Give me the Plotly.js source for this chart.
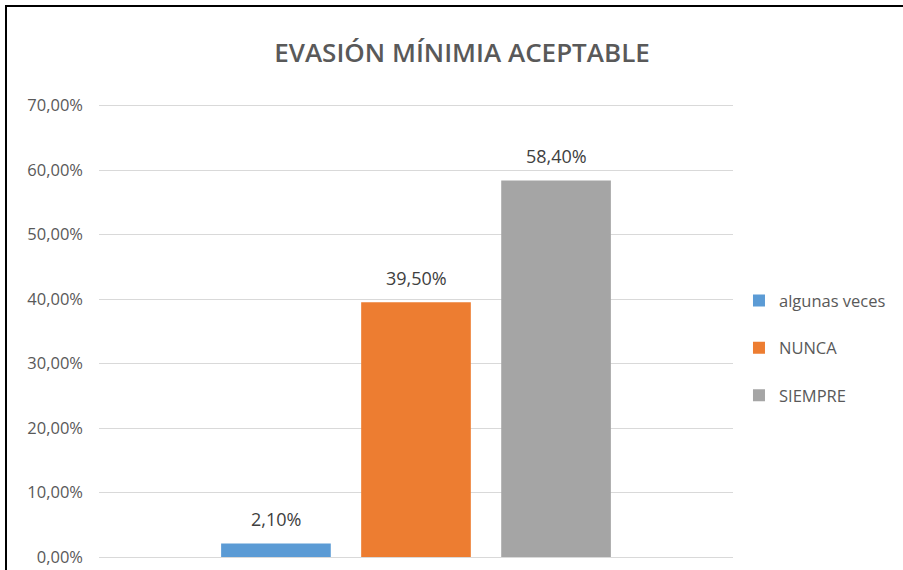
<!DOCTYPE html>
<html>
<head>
<meta charset="utf-8">
<script src="https://cdn.plot.ly/plotly-3.0.1.min.js"></script>
<style>
  html, body { margin: 0; padding: 0; background: #fff; }
  #wrap { position: relative; width: 903px; height: 570px; overflow: hidden; }
  #chart { position: absolute; left: 0; top: 0; width: 903px; height: 570px; }
  #frame { position: absolute; left: 5px; top: 5px; width: 920px; height: 600px;
           border-left: 2px solid #000; border-top: 2px solid #000; pointer-events: none; }
</style>
</head>
<body>
<div id="wrap">
  <div id="chart"></div>
  <div id="frame"></div>
</div>
<script>
// ---- data ----
const chartTitle = 'EVASIÓN MÍNIMIA ACEPTABLE';
const categories = ['algunas veces', 'NUNCA', 'SIEMPRE'];
const values = [0.021, 0.395, 0.584];
const yTickValues = [0, 0.1, 0.2, 0.3, 0.4, 0.5, 0.6, 0.7];

// ---- styles ----
const colors = ['#5B9BD5', '#ED7D31', '#A5A5A5'];
const FONT = '"Open Sans", "Liberation Sans", sans-serif';

function pct(v) {
  return (v * 100).toFixed(2).replace('.', ',') + '%';
}

const traces = categories.map((c, i) => ({
  type: 'bar',
  name: c,
  x: [c],
  y: [values[i]],
  legendgroup: c,
  marker: { color: colors[i], opacity: 1, line: { width: 0 } },
  hoverinfo: 'skip'
}));

const annotations = categories.map((c, i) => ({
  x: c,
  y: values[i],
  xref: 'x',
  yref: 'y',
  text: pct(values[i]),
  showarrow: false,
  yanchor: 'bottom',
  yshift: 10,
  font: { family: FONT, size: 18, color: '#404040' }
}));

const layout = {
  width: 903,
  height: 570,
  margin: { l: 99, r: 168, t: 104, b: 13 },
  paper_bgcolor: '#ffffff',
  plot_bgcolor: '#ffffff',
  separators: ',.',
  barmode: 'overlay',
  bargap: 0.217,
  title: {
    text: chartTitle,
    x: 462 / 903,
    xanchor: 'center',
    xref: 'container',
    y: 1 - 53 / 570,
    yref: 'container',
    yanchor: 'middle',
    font: { family: FONT, size: 26, color: '#595959', weight: 600 }
  },
  xaxis: {
    type: 'category',
    range: [-1.2635, 3.2635],
    showticklabels: false,
    showgrid: false,
    zeroline: false,
    showline: false,
    ticks: '',
    fixedrange: true
  },
  yaxis: {
    range: [0, 0.7025],
    tickvals: yTickValues,
    tickformat: '.2%',
    showgrid: true,
    gridcolor: '#D9D9D9',
    gridwidth: 1,
    zeroline: true,
    zerolinecolor: '#D9D9D9',
    zerolinewidth: 1,
    showline: false,
    ticks: '',
    ticklabelstandoff: 15,
    tickfont: { family: FONT, size: 16.5, color: '#595959' },
    fixedrange: true
  },
  showlegend: true,
  legend: {
    x: (741 - 99) / 636,
    xanchor: 'left',
    y: 0.461,
    yanchor: 'middle',
    traceorder: 'grouped',
    tracegroupgap: 23,
    font: { family: FONT, size: 16.5, color: '#595959' },
    bgcolor: 'rgba(0,0,0,0)'
  },
  annotations: annotations
};

Plotly.newPlot('chart', traces, layout, { staticPlot: true, displayModeBar: false });
</script>
</body>
</html>
